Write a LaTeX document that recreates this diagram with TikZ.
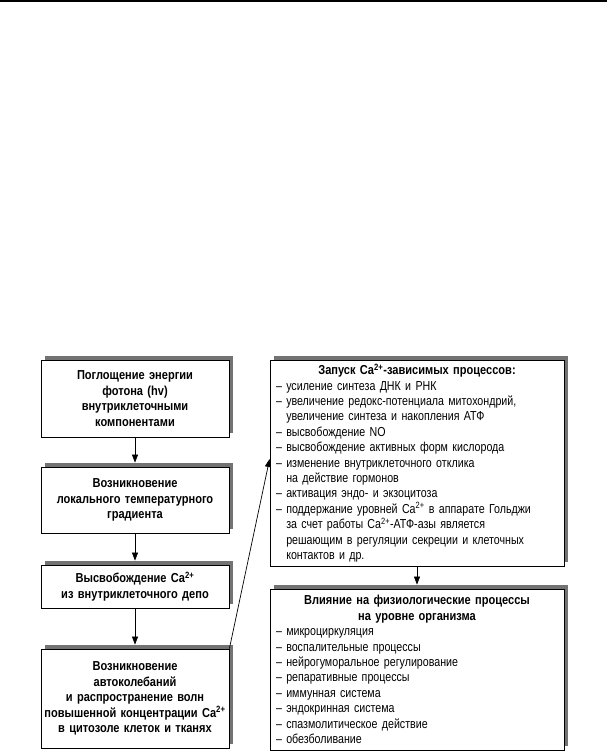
\documentclass[tikz,border=0pt]{standalone}
\usepackage{fontspec}
\setmainfont[FakeStretch=0.82,BoldFeatures={FakeStretch=0.85}]{Liberation Sans}
\usetikzlibrary{shadows,arrows.meta}
\newcommand\myind{\hphantom{–\ }}
\begin{document}
\begin{tikzpicture}[x=1pt,y=-1pt,
  box/.style={draw=black, line width=0.8pt, fill=white,
    general shadow={fill=black!55, shadow xshift=4pt, shadow yshift=4pt},
    inner sep=0pt},
  lbox/.style={box, minimum width=188pt, text width=184pt, align=center,
    font=\bfseries\fontsize{13}{15.5}\selectfont},
  rbox/.style={box, minimum width=294pt, text width=282pt, inner xsep=6pt,
    font=\fontsize{13}{15.4}\selectfont},
  arr/.style={-{Triangle[length=8pt,width=6pt]}, line width=0.7pt}]
\useasboundingbox (0,0) rectangle (607,751);
\draw[line width=2pt] (0,1) -- (607,1);

\node[lbox, minimum height=77pt] (b1) at (135,398.5)
  {Поглощение энергии\\фотона (hv)\\внутриклеточными\\компонентами};
\node[lbox, minimum height=66pt] (b2) at (135,500)
  {Возникновение\\локального температурного\\градиента};
\node[lbox, minimum height=43pt] (b3) at (135,586.5)
  {Высвобождение Ca\textsuperscript{2+}\\из внутриклеточного депо};
\node[lbox, minimum height=99pt] (b4) at (135,698.5)
  {Возникновение\\автоколебаний\\и распространение волн\\повышенной концентрации Ca\textsuperscript{2+}\\в цитозоле клеток и тканях};

\node[rbox, minimum height=206pt] (b5) at (417,463)
  {{\centering\bfseries Запуск Ca\textsuperscript{2+}-зависимых процессов:\par}
  \raggedright
  – усиление синтеза ДНК и РНК\\
  – увеличение редокс-потенциала митохондрий,\\
  \myind увеличение синтеза и накопления АТФ\\
  – высвобождение NO\\
  – высвобождение активных форм кислорода\\
  – изменение внутриклеточного отклика\\
  \myind на действие гормонов\\
  – активация эндо- и экзоцитоза\\
  – поддержание уровней Ca\textsuperscript{2+} в аппарате Гольджи\\
  \myind за счет работы Ca\textsuperscript{2+}-АТФ-азы является\\
  \myind решающим в регуляции секреции и клеточных\\
  \myind контактов и др.};

\node[rbox, minimum height=161pt] (b6) at (417,669.5)
  {{\centering\bfseries Влияние на физиологические процессы\\на уровне организма\par}
  \raggedright
  – микроциркуляция\\
  – воспалительные процессы\\
  – нейрогуморальное регулирование\\
  – репаративные процессы\\
  – иммунная система\\
  – эндокринная система\\
  – спазмолитическое действие\\
  – обезболивание};

\draw[arr] (b1.south) -- ([yshift=4pt]b2.north);
\draw[arr] (b2.south) -- ([yshift=4pt]b3.north);
\draw[arr] (b3.south) -- ([yshift=4pt]b4.north);
\draw[arr] (b5.south) -- ([yshift=4pt]b6.north);
\draw[arr] (b4.north east) -- ([yshift=4pt]b5.west);
\end{tikzpicture}
\end{document}
